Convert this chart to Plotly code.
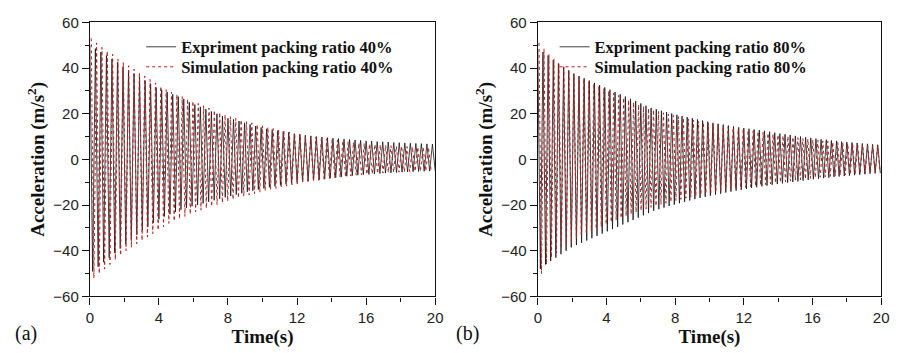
import plotly.graph_objects as go

# ---------------- data (peak values) ----------------
# Panel (a): packing ratio 40%
exp40_period = 0.32
exp40_pos = [50, 48.5, 47, 45.5, 44, 42.5, 40.5, 39, 37.5, 36,
             34.5, 33, 31.5, 30.5, 29.5, 28.5, 27.5, 26.5, 25, 24,
             23, 22, 21, 20, 19, 18, 17.5, 16.8, 16, 15.3,
             14.6, 14, 13.4, 13, 12.6, 12.2, 11.8, 11.3, 11, 10.6,
             10.3, 10, 9.8, 9.5, 9.3, 9.1, 8.9, 8.7, 8.5, 8.3,
             8.1, 8, 7.8, 7.7, 7.6, 7.4, 7.3, 7.2, 7.1, 7,
             6.9, 6.8, 6.7]
exp40_neg = [-49, -47, -45, -43, -41, -39, -37, -35, -33, -31,
             -29.5, -27.8, -26.2, -25, -24, -23, -22, -21.2, -20.5, -20,
             -19.3, -18.6, -17.9, -17.2, -16.6, -16, -15.4, -14.8, -14.2, -13.7,
             -13.2, -12.7, -12.2, -11.8, -11.3, -10.9, -10.5, -10.1, -9.8, -9.5,
             -9.2, -8.9, -8.6, -8.3, -8.0, -7.7, -7.4, -7.1, -6.9, -6.7,
             -6.6, -6.4, -6.2, -6.0, -5.9, -5.8, -5.6, -5.5, -5.4, -5.3,
             -5.2, -5.1, -5.0]
sim40_period = 0.31
sim40_offset = 0.08
sim40_pos = [53, 51, 49, 47.5, 46, 44, 42.5, 41, 39.5, 38,
             36.5, 35, 33.5, 32, 30.5, 29.5, 28.5, 27.5, 26.5, 25.5,
             24.5, 23.5, 22.5, 21.5, 20.5, 19.5, 18.7, 18, 17.3, 16.6,
             16, 15.3, 14.7, 14.1, 13.5, 13, 12.5, 12, 11.5, 11,
             10.6, 10.2, 9.8, 9.4, 9, 8.7, 8.4, 8.1, 7.8, 7.5,
             7.2, 7, 6.8, 6.6, 6.4, 6.2, 6, 5.8, 5.7, 5.6,
             5.5, 5.4, 5.3, 5.2]
sim40_neg = [-52, -50, -48, -46, -44, -42, -40, -38.5, -37, -35.5,
             -34, -32.5, -31, -29.5, -28, -27, -26, -25, -24, -23,
             -22.2, -21.4, -20.6, -19.8, -19, -18.3, -17.6, -16.9, -16.2, -15.6,
             -15, -14.4, -13.8, -13.2, -12.7, -12.2, -11.7, -11.2, -10.8, -10.4,
             -10, -9.6, -9.2, -8.8, -8.5, -8.2, -7.9, -7.6, -7.3, -7,
             -6.8, -6.6, -6.4, -6.2, -6, -5.8, -5.7, -5.6, -5.5, -5.4,
             -5.3, -5.2, -5.1, -5]

# Panel (b): packing ratio 80%
exp80_period = 0.30
exp80_pos = [48, 47, 45.5, 43.5, 42, 40.5, 39, 37.5, 36.5, 35.5,
             34.5, 33.5, 32.5, 31.5, 30.5, 29.5, 28.5, 27.5, 26.5, 25.5,
             24.5, 23.5, 22.5, 22, 21.3, 20.7, 20.1, 19.5, 19, 18.5,
             18, 17.5, 17, 16.5, 16, 15.6, 15.2, 14.8, 14.4, 14,
             13.7, 13.4, 13.1, 12.8, 12.5, 12.1, 11.7, 11.3, 11, 10.7,
             10.3, 10, 9.7, 9.4, 9.1, 8.8, 8.6, 8.3, 8.1, 7.8,
             7.6, 7.4, 7.2, 7, 6.8, 6.6, 6.4]
exp80_neg = [-48, -46, -44.5, -43, -41.5, -40, -38.5, -37.5, -36.5, -35.5,
             -34.5, -33.5, -32.5, -31.5, -30.5, -29.5, -28.5, -27.5, -26.5, -25.5,
             -24.5, -23.5, -22.5, -21.8, -21.1, -20.4, -19.8, -19.2, -18.6, -18,
             -17.4, -16.9, -16.4, -15.9, -15.4, -15, -14.5, -14.1, -13.7, -13.3,
             -12.9, -12.5, -12.2, -11.8, -11.5, -11.1, -10.8, -10.5, -10.2, -9.9,
             -9.6, -9.3, -9, -8.7, -8.5, -8.2, -8, -7.7, -7.5, -7.3,
             -7.1, -6.9, -6.7, -6.5, -6.3, -6.1, -6]
sim80_period = 0.29
sim80_offset = 0.07
sim80_pos = [51, 48.5, 46, 44, 42, 40.5, 39, 37.5, 36.3, 35.2,
             34.1, 33, 32, 31, 30, 29, 28, 27, 26, 25,
             24, 23.2, 22.4, 21.7, 21, 20.4, 19.8, 19.2, 18.7, 18.2,
             17.7, 17.2, 16.7, 16.2, 15.8, 15.4, 15, 14.6, 14.2, 13.8,
             13.4, 13.1, 12.8, 12.5, 12.2, 11.9, 11.5, 11.1, 10.8, 10.4,
             10.1, 9.8, 9.5, 9.2, 8.9, 8.6, 8.4, 8.1, 7.9, 7.6,
             7.4, 7.2, 7, 6.8, 6.6, 6.4, 6.2, 6.1, 6]
sim80_neg = [-50, -46, -43, -41, -39, -37.5, -36, -34.8, -33.6, -32.5,
             -31.5, -30.5, -29.5, -28.5, -27.5, -26.6, -25.7, -24.8, -24, -23.2,
             -22.4, -21.7, -21, -20.4, -19.8, -19.2, -18.6, -18, -17.5, -17,
             -16.5, -16, -15.5, -15.1, -14.7, -14.3, -13.9, -13.5, -13.1, -12.8,
             -12.5, -12.2, -11.9, -11.6, -11.3, -11, -10.7, -10.4, -10.1, -9.8,
             -9.5, -9.2, -8.9, -8.6, -8.3, -8, -7.8, -7.6, -7.4, -7.2,
             -7, -6.8, -6.6, -6.4, -6.2, -6.1, -6, -5.9, -5.8]

x_ticks = [0, 4, 8, 12, 16, 20]
y_ticks = [-60, -40, -20, 0, 20, 40, 60]
panel_labels = ["(a)", "(b)"]
legend_names = [("Expriment packing ratio 40%", "Simulation packing ratio 40%"),
                ("Expriment packing ratio 80%", "Simulation packing ratio 80%")]


def zigzag(pos, neg, period, offset=0.0):
    xs, ys = [], []
    for i, p in enumerate(pos):
        xs.append(offset + i * period)
        ys.append(p)
        if i < len(neg):
            xs.append(offset + i * period + period / 2)
            ys.append(neg[i])
    return xs, ys


W, H = 903, 353
fig = go.Figure()

EXP_COLOR = "#111111"
SIM_COLOR = "#b52020"

legend_font = dict(family="Liberation Serif, Times New Roman, serif", size=16.5, color="#111")
legend_x = [139, 558]
legend_rows = [40, 61]

panels = [
    (exp40_pos, exp40_neg, exp40_period, 0.0, sim40_pos, sim40_neg, sim40_period, sim40_offset),
    (exp80_pos, exp80_neg, exp80_period, 0.0, sim80_pos, sim80_neg, sim80_period, sim80_offset),
]
legend_layout = {}
for k, (ep, en, eper, eoff, sp, sn, sper, soff) in enumerate(panels):
    xa = "x" if k == 0 else "x2"
    ya = "y" if k == 0 else "y2"
    lg_e = "legend" if k == 0 else "legend3"
    lg_s = "legend2" if k == 0 else "legend4"
    ex, ey = zigzag(ep, en, eper, eoff)
    sx, sy = zigzag(sp, sn, sper, soff)
    fig.add_trace(go.Scatter(x=ex, y=ey, mode="lines", name="<b>" + legend_names[k][0] + "</b>",
                             line=dict(color=EXP_COLOR, width=0.8),
                             xaxis=xa, yaxis=ya, legend=lg_e))
    fig.add_trace(go.Scatter(x=sx, y=sy, mode="lines", name="<b>" + legend_names[k][1] + "</b>",
                             line=dict(color=SIM_COLOR, width=1.0, dash="dot"),
                             xaxis=xa, yaxis=ya, legend=lg_s))
    for lg, row in ((lg_e, legend_rows[0]), (lg_s, legend_rows[1])):
        legend_layout[lg] = dict(x=legend_x[k] / W, y=1 - row / H, xanchor="left", yanchor="middle",
                                 bgcolor="rgba(0,0,0,0)", borderwidth=0, font=legend_font)

tick_font = dict(family="Liberation Sans, Arial, sans-serif", size=15, color="#222")
title_font = dict(family="Liberation Serif, Times New Roman, serif", size=19, color="#111")

ydom = [1 - 302 / H, 1 - 14 / H]
xdoms = [[87 / W, 437 / W], [541 / W, 889 / W]]

common_x = dict(range=[0, 20], tickvals=x_ticks, ticks="outside", ticklen=7, tickwidth=1.2,
                tickcolor="#111", showline=True, linecolor="#111", linewidth=1.2, mirror=True,
                showgrid=False, zeroline=False, tickfont=tick_font,
                minor=dict(dtick=2, ticks="outside", ticklen=4, tickcolor="#111", tickwidth=1.2),
                title=dict(text="<b>Time(s)</b>", font=title_font, standoff=0))
common_y = dict(range=[-60, 60], tickvals=y_ticks, ticks="outside", ticklen=7, tickwidth=1.2,
                tickcolor="#111", showline=True, linecolor="#111", linewidth=1.2, mirror=True,
                showgrid=False, zeroline=False, tickfont=tick_font,
                minor=dict(dtick=10, ticks="outside", ticklen=4, tickcolor="#111", tickwidth=1.2),
                title=dict(text="<b>Acceleration (m/s<sup>2</sup>)</b>", font=title_font, standoff=3))

fig.update_layout(
    width=W, height=H,
    margin=dict(l=0, r=0, t=0, b=0),
    paper_bgcolor="white", plot_bgcolor="white",
    showlegend=True,
    xaxis=dict(domain=xdoms[0], anchor="y", **common_x),
    yaxis=dict(domain=ydom, anchor="x", **common_y),
    xaxis2=dict(domain=xdoms[1], anchor="y2", **common_x),
    yaxis2=dict(domain=ydom, anchor="x2", **common_y),
    **legend_layout,
)

label_x = [22, 470]
for k, lab in enumerate(panel_labels):
    fig.add_annotation(text=lab, x=label_x[k] / W, y=1 - 341 / H, xref="paper", yref="paper",
                       xanchor="center", yanchor="middle", showarrow=False,
                       font=dict(family="Liberation Serif, DejaVu Serif, serif", size=20, color="#111"))

fig.write_html("out.html")
